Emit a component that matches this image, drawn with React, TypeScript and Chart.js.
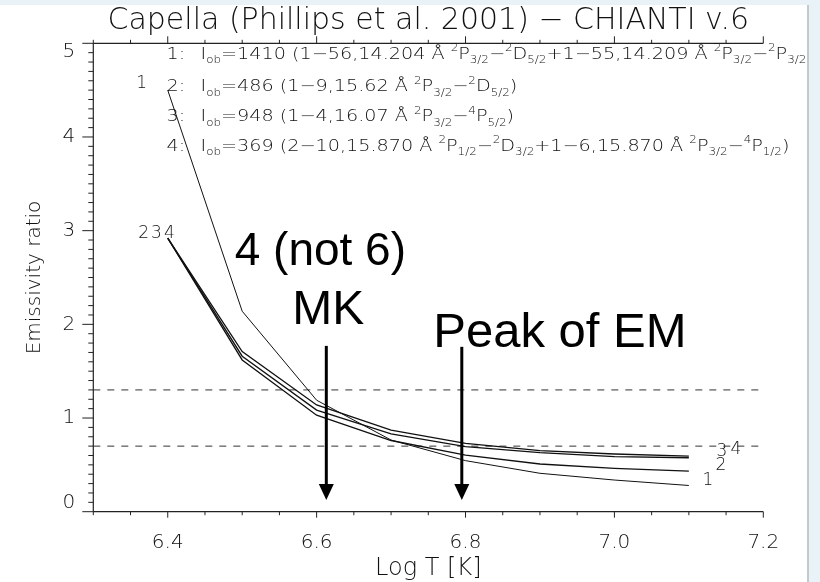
import React, { useEffect, useRef } from 'react';
import { Chart, registerables } from 'chart.js';
Chart.register(...registerables);

// ---------- data ----------
const logT = [6.4, 6.5, 6.6, 6.7, 6.8, 6.9, 7.0, 7.1];
const ratio1 = [4.5, 2.14, 1.19, 0.765, 0.545, 0.41, 0.338, 0.28];
const ratio2 = [2.92, 1.62, 1.03, 0.76, 0.605, 0.509, 0.463, 0.434];
const ratio3 = [2.92, 1.71, 1.14, 0.87, 0.73, 0.651, 0.616, 0.594];
const ratio4 = [2.92, 1.66, 1.085, 0.83, 0.694, 0.63, 0.587, 0.576];
const limitLevels = [1.3, 0.7];
const xMin = 6.3;
const xMax = 7.2;
const yMin = 0;
const yMax = 5;
const xTicks = [6.4, 6.6, 6.8, 7.0, 7.2];
const yTicks = [0, 1, 2, 3, 4, 5];
const titleText = 'Capella (Phillips et al. 2001) \u2212 CHIANTI v.6';
const xTitle = 'Log T [K]';
const yTitle = 'Emissivity ratio';
const legendIds = ['1:', '2:', '3:', '4:'];
const legendLines = [
  'I_{ob}=1410 (1\u221256,14.204 \u00c5 ^{2}P_{3/2}\u2212^{2}D_{5/2}+1\u221255,14.209 \u00c5 ^{2}P_{3/2}\u2212^{2}P_{3/2})',
  'I_{ob}=486 (1\u22129,15.62 \u00c5 ^{2}P_{3/2}\u2212^{2}D_{5/2})',
  'I_{ob}=948 (1\u22124,16.07 \u00c5 ^{2}P_{3/2}\u2212^{4}P_{5/2})',
  'I_{ob}=369 (2\u221210,15.870 \u00c5 ^{2}P_{1/2}\u2212^{2}D_{3/2}+1\u22126,15.870 \u00c5 ^{2}P_{3/2}\u2212^{4}P_{1/2})',
];
const arrowX = [6.613, 6.795];
const arrowTop = [1.77, 1.76];
const arrowTip = [0.125, 0.125];
const notes = ['4 (not 6)', 'MK', 'Peak of EM'];

// ---------- layout constants ----------
const W = 807;
const H = 577;
const AREA = { left: 93.3, right: 763.3, top: 38.3, bottom: 506.7 };
const FONT = '"DejaVu Sans"';
const INK = '#111';

type Seg = { t: string; k: 'n' | 'sub' | 'sup' };
function parseRich(s: string): Seg[] {
  const segs: Seg[] = [];
  let buf = '';
  let i = 0;
  while (i < s.length) {
    const c = s[i];
    if ((c === '_' || c === '^') && s[i + 1] === '{') {
      if (buf) { segs.push({ t: buf, k: 'n' }); buf = ''; }
      const end = s.indexOf('}', i);
      segs.push({ t: s.slice(i + 2, end), k: c === '_' ? 'sub' : 'sup' });
      i = end + 1;
    } else { buf += c; i++; }
  }
  if (buf) segs.push({ t: buf, k: 'n' });
  return segs;
}
function richWidth(ctx: CanvasRenderingContext2D, segs: Seg[], size: number) {
  let w = 0;
  for (const s of segs) {
    const fs = s.k === 'n' ? size : size * 0.62;
    ctx.font = `200 ${fs}px ${FONT}`;
    w += ctx.measureText(s.t).width;
  }
  return w;
}
function drawRich(ctx: CanvasRenderingContext2D, segs: Seg[], x: number, y: number, size: number, sx: number) {
  ctx.save();
  ctx.translate(x, y);
  ctx.scale(sx, 1);
  ctx.textBaseline = 'alphabetic';
  ctx.textAlign = 'left';
  let cx = 0;
  for (const s of segs) {
    const fs = s.k === 'n' ? size : size * 0.62;
    ctx.font = `200 ${fs}px ${FONT}`;
    const dy = s.k === 'sub' ? size * 0.3 : s.k === 'sup' ? -size * 0.45 : 0;
    ctx.fillText(s.t, cx, dy);
    cx += ctx.measureText(s.t).width;
  }
  ctx.restore();
}

const decor = {
  id: 'decor',
  beforeDraw(chart: any) {
    const ys = chart.scales.y;
    const items = ys.getLabelItems(chart.chartArea);
    if (items && !items._adj && items.length >= 2) {
      items[0].options.translation[1] -= 8.6;
      items[items.length - 1].options.translation[1] += 8.4;
      items._adj = true;
    }
  },
  afterDraw(chart: any) {
    const ctx: CanvasRenderingContext2D = chart.ctx;
    const xs = chart.scales.x;
    const ys = chart.scales.y;
    const { left, right, top, bottom } = chart.chartArea;
    ctx.save();
    // axes
    ctx.strokeStyle = '#222';
    ctx.lineWidth = 1.2;
    ctx.beginPath();
    ctx.moveTo(left, top); ctx.lineTo(right, top);
    ctx.moveTo(left, top); ctx.lineTo(left, bottom);
    ctx.moveTo(left, bottom); ctx.lineTo(right, bottom);
    ctx.stroke();
    ctx.lineWidth = 1;
    ctx.beginPath();
    // x ticks: minor every 0.05, major every 0.2
    for (let k = 0; k <= Math.round((xMax - xMin) / 0.05); k++) {
      const v = xMin + k * 0.05;
      const px = xs.getPixelForValue(v);
      const major = xTicks.some((t) => Math.abs(t - v) < 1e-6);
      const lb = major ? 6 : 3.5;
      const lt = major ? 7 : 3.5;
      ctx.moveTo(px, bottom); ctx.lineTo(px, bottom + lb);
      ctx.moveTo(px, top); ctx.lineTo(px, top - lt);
    }
    // y ticks: minor every 0.1, major every 1
    for (let k = 0; k <= Math.round((yMax - yMin) / 0.1); k++) {
      const v = yMin + k * 0.1;
      const py = ys.getPixelForValue(v);
      const major = yTicks.some((t) => Math.abs(t - v) < 1e-6);
      ctx.moveTo(left, py); ctx.lineTo(left - (major ? 11 : 5), py);
    }
    ctx.stroke();

    // legend rows
    ctx.fillStyle = INK;
    const size = 16;
    const parsed = legendLines.map(parseRich);
    const nat = richWidth(ctx, parsed[1], size);
    const sx = (517.3 - 200.5) / nat;
    const rowBase = [15.2, 47.7, 77.7, 107.2];
    parsed.forEach((segs, i) => {
      const y = top + rowBase[i];
      drawRich(ctx, [{ t: legendIds[i], k: 'n' }], 166.5, y, size, sx);
      drawRich(ctx, segs, 200.5, y, size, sx);
    });

    // curve labels
    ctx.font = `200 17px ${FONT}`;
    ctx.textBaseline = 'middle';
    const sx1 = xs.getPixelForValue(logT[0]);
    ctx.textAlign = 'center';
    ctx.fillText('1', sx1 - 26, ys.getPixelForValue(ratio1[0]) - 7);
    ctx.textAlign = 'right';
    ctx.save();
    (ctx as any).letterSpacing = '2px';
    ctx.fillText('234', sx1 + 9, ys.getPixelForValue(ratio2[0]) - 5);
    ctx.restore();
    ctx.textAlign = 'center';
    const ex = xs.getPixelForValue(logT[logT.length - 1]);
    const last = (a: number[]) => ys.getPixelForValue(a[a.length - 1]);
    ctx.fillText('1', ex + 19, last(ratio1) - 5);
    ctx.fillText('2', ex + 32, last(ratio2) - 5);
    ctx.fillText('3', ex + 33, last(ratio3) - 4.5);
    ctx.fillText('4', ex + 47, last(ratio4) - 8);

    // arrows
    ctx.fillStyle = '#000';
    ctx.strokeStyle = '#000';
    arrowX.forEach((xv, i) => {
      const px = xs.getPixelForValue(xv);
      const y0 = ys.getPixelForValue(arrowTop[i]);
      const y1 = ys.getPixelForValue(arrowTip[i]);
      const hl = 16, hw = 7.5;
      ctx.lineWidth = 3;
      ctx.beginPath();
      ctx.moveTo(px, y0); ctx.lineTo(px, y1 - hl + 1);
      ctx.stroke();
      ctx.beginPath();
      ctx.moveTo(px - hw, y1 - hl); ctx.lineTo(px + hw, y1 - hl); ctx.lineTo(px, y1);
      ctx.closePath();
      ctx.fill();
    });

    // big notes
    ctx.fillStyle = '#000';
    ctx.textBaseline = 'alphabetic';
    ctx.font = `46px "Liberation Sans", Arial, sans-serif`;
    ctx.textAlign = 'center';
    ctx.fillText(notes[0], xs.getPixelForValue(6.605), ys.getPixelForValue(2.633));
    ctx.font = `48px "Liberation Sans", Arial, sans-serif`;
    ctx.fillText(notes[1], xs.getPixelForValue(6.6155), ys.getPixelForValue(2.008));
    ctx.font = `49px "Liberation Sans", Arial, sans-serif`;
    ctx.textAlign = 'left';
    ctx.fillText(notes[2], xs.getPixelForValue(6.7566), ys.getPixelForValue(1.761));
    ctx.restore();
  },
};

const curve = (vals: number[], width: number) => ({
  data: logT.map((x, i) => ({ x, y: vals[i] })),
  borderColor: '#111',
  borderWidth: width,
  pointRadius: 0,
  showLine: true,
  fill: false,
  tension: 0,
});

export default function App() {
  const ref = useRef<HTMLCanvasElement>(null);
  useEffect(() => {
    document.body.style.margin = '0';
    const tickFont = { family: FONT, size: 20, weight: '200' as any };
    const chart = new Chart(ref.current!, {
      type: 'scatter',
      data: {
        datasets: [
          curve(ratio1, 1),
          curve(ratio2, 1.3),
          curve(ratio3, 1.3),
          curve(ratio4, 1.3),
          ...limitLevels.map((lv) => ({
            data: [{ x: xMin, y: lv }, { x: xMax, y: lv }],
            borderColor: '#333',
            borderWidth: 1,
            borderDash: [7, 7],
            pointRadius: 0,
            showLine: true,
            fill: false,
          })),
        ],
      },
      options: {
        animation: false,
        responsive: false,
        devicePixelRatio: 1,
        layout: { padding: { left: 0, top: 0, right: W - AREA.right, bottom: 0 } },
        plugins: {
          legend: { display: false },
          tooltip: { enabled: false },
          title: {
            display: true,
            text: titleText,
            fullSize: false,
            color: INK,
            font: { family: FONT, size: 30, weight: '200' as any, lineHeight: 1 },
            padding: { top: 1, bottom: AREA.top - 31 },
          },
        },
        scales: {
          x: {
            type: 'linear',
            position: 'bottom',
            min: xMin,
            max: xMax,
            afterBuildTicks: (s: any) => { s.ticks = xTicks.map((v) => ({ value: v })); },
            afterFit: (s: any) => { s.height = H - AREA.bottom; },
            ticks: {
              callback: (v: any) => Number(v).toFixed(1),
              padding: 19,
              color: INK,
              font: tickFont,
              maxRotation: 0,
              autoSkip: false,
            },
            grid: { display: false, drawTicks: false },
            border: { display: false },
            title: {
              display: true,
              text: xTitle,
              color: INK,
              font: { family: FONT, size: 24, weight: '200' as any, lineHeight: 1 },
              padding: { top: 0, bottom: 1 },
            },
          },
          y: {
            type: 'linear',
            min: yMin,
            max: yMax,
            afterBuildTicks: (s: any) => { s.ticks = yTicks.map((v) => ({ value: v })); },
            afterFit: (s: any) => { s.width = AREA.left; },
            ticks: { padding: 18, color: INK, font: tickFont },
            grid: { display: false, drawTicks: false },
            border: { display: false },
            title: {
              display: true,
              text: yTitle,
              color: INK,
              font: { family: FONT, size: 20, weight: '200' as any, lineHeight: 1 },
              padding: { top: 25, bottom: 0 },
            },
          },
        },
      },
      plugins: [decor],
    } as any);
    return () => chart.destroy();
  }, []);
  return (
    <div style={{ position: 'fixed', left: 0, top: 0, width: 820, height: 582, background: '#e9f2f6', overflow: 'hidden' }}>
      <div style={{ position: 'absolute', left: 0, top: 5, width: W, height: H, background: '#ffffff', borderRight: '2px solid #c3cace' }}>
        <canvas ref={ref} width={W} height={H} style={{ display: 'block', width: W, height: H }} />
      </div>
    </div>
  );
}
